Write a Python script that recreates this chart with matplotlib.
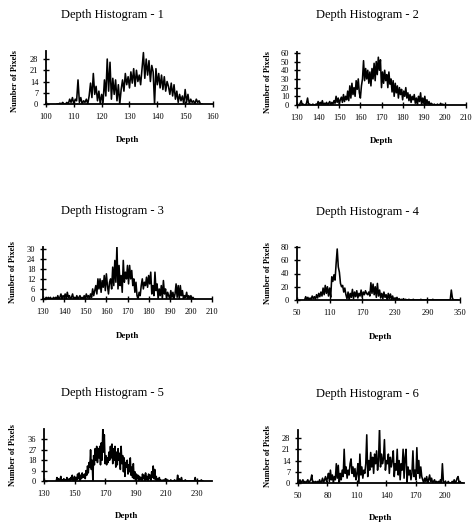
import numpy as np
import matplotlib
matplotlib.use("Agg")
import matplotlib.pyplot as plt

# ---- data ----
titles = ["Depth Histogram - 1", "Depth Histogram - 2", "Depth Histogram - 3",
          "Depth Histogram - 4", "Depth Histogram - 5", "Depth Histogram - 6"]

start1, step1 = 104, 0.5
counts1 = [0, 0, 0.5, 0, 1, 0, 0, 1, 0, 3, 1, 4, 0, 3, 2, 15, 1, 4, 0, 2,
           1, 3, 0, 5, 13, 4, 19, 6, 11, 2, 8, 0, 6, 1, 15, 5, 28, 8, 26, 3,
           16, 6, 15, 2, 12, 0, 9, 15, 8, 19, 12, 17, 10, 20, 13, 22, 11, 21, 14, 18,
           12, 22, 32, 16, 28, 18, 27, 14, 24, 20, 0, 22, 12, 19, 10, 18, 9, 17, 8, 14,
           11, 6, 13, 5, 12, 3, 8, 1, 6, 2, 5, 0, 9, 1, 6, 0, 3, 1, 2, 0,
           3, 1, 2, 0, 0]

start2, step2 = 131, 0.5
counts2 = [0, 2, 5, 0, 1, 0, 0, 2, 8, 0, 1, 0, 0, 1, 0, 0, 1, 0, 4, 0,
           3, 1, 5, 0, 2, 1, 3, 0, 2, 4, 0, 3, 1, 5, 2, 10, 3, 8, 1, 6,
           9, 3, 12, 4, 10, 6, 16, 5, 22, 8, 25, 12, 20, 10, 28, 18, 30, 14, 8, 22,
           30, 51, 28, 42, 30, 40, 25, 38, 22, 42, 30, 48, 28, 50, 35, 55, 40, 52, 20, 38,
           25, 40, 28, 35, 20, 38, 24, 30, 15, 28, 10, 25, 14, 22, 8, 20, 12, 18, 6, 16,
           10, 20, 8, 14, 5, 12, 3, 10, 6, 12, 2, 8, 0, 10, 4, 14, 0, 8, 2, 10,
           0, 6, 1, 4, 0, 2, 1, 0, 1, 0, 0, 1, 0, 0, 2, 0, 1, 0, 0]

start3, step3 = 131, 0.5
counts3 = [0, 1, 0, 1, 0, 1, 0, 0, 1, 0, 1, 0, 2, 0, 1, 3, 0, 2, 1, 3,
           0, 4, 1, 2, 0, 1, 3, 0, 1, 0, 2, 0, 1, 2, 0, 1, 0, 2, 0, 3,
           1, 2, 0, 3, 1, 6, 2, 5, 8, 3, 12, 6, 12, 4, 11, 7, 14, 5, 15, 8,
           3, 10, 12, 6, 19, 8, 23, 10, 32, 6, 20, 8, 14, 4, 23, 10, 16, 12, 20, 9,
           20, 12, 17, 8, 12, 4, 10, 2, 0, 4, 2, 8, 12, 6, 10, 8, 13, 7, 14, 9,
           16, 3, 8, 2, 16, 5, 9, 0, 6, 2, 8, 0, 11, 3, 6, 0, 4, 2, 0, 5,
           1, 4, 0, 3, 9, 1, 8, 0, 8, 2, 5, 0, 2, 1, 4, 0, 2, 0, 2, 0,
           1, 0, 0]

start4, step4 = 64, 2
counts4 = [0, 5, 1, 4, 0, 3, 1, 6, 2, 5, 1, 8, 3, 10, 5, 12, 6, 18, 8, 22,
           10, 20, 6, 18, 4, 35, 28, 38, 30, 55, 77, 50, 42, 25, 20, 22, 12, 18, 8, 2,
           12, 0, 10, 4, 16, 2, 12, 5, 14, 3, 10, 6, 15, 4, 12, 8, 14, 10, 8, 12,
           6, 26, 10, 24, 8, 20, 4, 25, 6, 15, 3, 10, 2, 12, 4, 8, 0, 10, 2, 9,
           1, 6, 0, 3, 1, 4, 0, 2, 0, 1, 0, 2, 0, 1, 0, 0, 1, 0, 0, 0,
           1, 0, 0, 0, 0, 0, 0, 1, 0, 0, 0, 0, 0, 0, 0, 0, 0, 0, 1, 0,
           0, 0, 0, 0, 0, 0, 0, 0, 0, 0, 0, 0, 0, 0, 0, 15, 3, 0, 0, 0,
           0, 0]

start5, step5 = 138, 0.5
counts5 = [0, 3, 0, 2, 0, 1, 4, 0, 1, 0, 2, 0, 1, 0, 3, 0, 1, 2, 0, 3,
           1, 5, 0, 2, 4, 0, 3, 1, 6, 2, 7, 0, 5, 2, 7, 3, 4, 6, 2, 9,
           5, 13, 7, 16, 12, 27, 10, 18, 0, 22, 14, 28, 18, 30, 16, 28, 20, 30, 14, 33,
           18, 45, 25, 40, 15, 22, 14, 20, 16, 25, 18, 30, 20, 32, 15, 28, 18, 30, 12, 25,
           14, 28, 18, 24, 10, 30, 15, 22, 8, 20, 4, 16, 12, 18, 6, 14, 8, 20, 5, 12,
           3, 15, 2, 8, 0, 6, 2, 5, 0, 4, 1, 3, 0, 6, 2, 5, 0, 7, 1, 4,
           0, 6, 2, 5, 0, 8, 3, 13, 2, 10, 1, 4, 0, 2, 0, 3, 0, 1, 0, 0,
           1, 0, 0, 2, 0, 0, 1, 0, 0, 0, 1, 0, 0, 0, 0, 1, 0, 0, 0, 5,
           0, 2, 0, 0, 3, 0, 0, 0, 0, 1, 0, 0, 0, 0, 0, 0, 0, 0, 0, 0,
           0, 0, 3, 0, 0, 0, 0, 0, 0, 0, 1, 0, 0]

start6, step6 = 51, 1
counts6 = [0, 2, 0, 1, 2, 0, 1, 0, 1, 2, 0, 1, 2, 5, 0, 1, 0, 1, 0, 1,
           0, 2, 0, 1, 3, 0, 2, 4, 1, 3, 6, 1, 8, 2, 5, 0, 4, 2, 12, 3,
           11, 0, 6, 2, 8, 4, 21, 6, 10, 3, 8, 5, 12, 15, 6, 10, 4, 9, 2, 6,
           12, 0, 18, 5, 10, 3, 8, 6, 12, 30, 4, 14, 8, 19, 10, 16, 6, 18, 12, 20,
           8, 14, 35, 10, 18, 12, 15, 27, 8, 14, 12, 18, 6, 16, 10, 14, 20, 4, 12, 8,
           21, 5, 14, 2, 12, 8, 21, 3, 16, 21, 0, 10, 5, 8, 2, 6, 20, 4, 8, 2,
           22, 6, 14, 3, 10, 4, 2, 0, 3, 1, 4, 0, 2, 5, 1, 3, 0, 1, 2, 0,
           1, 0, 1, 0, 2, 0, 12, 1, 0, 1, 0, 0, 1, 0, 0, 0, 1, 0, 2, 0,
           1, 3, 4, 0, 1, 0, 0]

series = [(start1, step1, counts1), (start2, step2, counts2), (start3, step3, counts3),
          (start4, step4, counts4), (start5, step5, counts5), (start6, step6, counts6)]

xlims = [(100, 160), (130, 210), (130, 210), (50, 350), (130, 240), (50, 219)]
xticks = [np.arange(100, 161, 10), np.arange(130, 211, 10), np.arange(130, 211, 10),
          np.arange(50, 351, 60), np.arange(130, 231, 20), np.arange(50, 201, 30)]
ylims = [(0, 33), (0, 61), (0, 31), (0, 80), (0, 45), (0, 33)]
yticks = [np.arange(0, 29, 7), np.arange(0, 61, 10), np.arange(0, 31, 6),
          np.arange(0, 81, 20), np.arange(0, 37, 9), np.arange(0, 29, 7)]

# ---- layout in pixels: (left, top, right, bottom) of axes, title y, xlabel y ----
W, H = 472, 524
boxes = [(46, 51, 213, 104), (297, 52, 466, 105), (43, 247, 212, 299),
         (297, 247, 460, 300), (44, 429, 212, 481), (298, 430, 464, 483)]
title_pos = [(112, 15), (367, 15), (112, 211), (367, 212), (112, 393), (367, 394)]
xlabel_pos = [(128, 140), (382, 141), (128, 336), (381, 337), (127, 516), (381, 518)]
ylabel_pos = [(15, 81), (268, 82), (13, 272), (268, 273), (13, 455), (268, 456)]

plt.rcParams['font.family'] = ['Liberation Serif', 'DejaVu Serif']

fig = plt.figure(figsize=(W / 100, H / 100), dpi=100)

for i in range(6):
    l, t, r, b = boxes[i]
    ax = fig.add_axes([l / W, 1 - b / H, (r - l) / W, (b - t) / H])
    start, step, counts = series[i]
    depth = start + step * np.arange(len(counts))
    ax.plot(depth, counts, color="black", lw=1.15)
    ax.set_xlim(*xlims[i])
    ax.set_ylim(*ylims[i])
    ax.set_xticks(xticks[i])
    ax.set_yticks(yticks[i])
    for s in ["top", "right"]:
        ax.spines[s].set_visible(False)
    for s in ["left", "bottom"]:
        ax.spines[s].set_linewidth(1.3)
    ax.tick_params(direction="inout", length=5, width=1, labelsize=6, pad=3)
    ax.tick_params(axis="x", pad=4)
    ax.patch.set_visible(False)
    ax.margins(0)

    tx, ty = title_pos[i]
    fig.text(tx / W, 1 - ty / H, titles[i], ha="center", va="center", fontsize=9)
    dx, dy = xlabel_pos[i]
    fig.text(dx / W, 1 - dy / H, "Depth", ha="center", va="center",
             fontsize=6.5, fontweight="bold")
    lx, ly = ylabel_pos[i]
    fig.text(lx / W, 1 - ly / H, "Number of Pixels", ha="center", va="center",
             rotation=90, fontsize=6, fontweight="bold")

fig.savefig("out.png", dpi=100)
